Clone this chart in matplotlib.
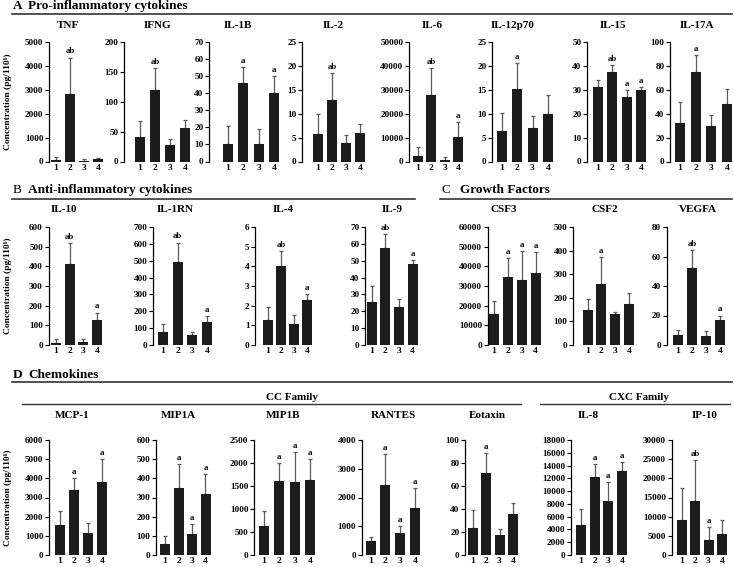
import matplotlib
matplotlib.use("Agg")
import matplotlib.pyplot as plt
from matplotlib.lines import Line2D
from matplotlib.ticker import MultipleLocator

plt.rcParams['font.family'] = ['Liberation Serif', 'DejaVu Serif']
plt.rcParams['font.weight'] = 'bold'

groups = ['1', '2', '3', '4']

# ---- data (mean, upper error size, significance letters) ----
TNF_mean = [70, 2830, 40, 100];        TNF_err = [110, 1520, 60, 50];      TNF_sig = ['', 'ab', '', '']
IFNG_mean = [41, 120, 28, 56];          IFNG_err = [26, 37, 9, 13];         IFNG_sig = ['', 'ab', '', '']
IL1B_mean = [10, 46, 10.5, 40];         IL1B_err = [11, 9.5, 8.5, 10];      IL1B_sig = ['', 'a', '', 'a']
IL2_mean = [5.7, 12.8, 3.8, 6.0];       IL2_err = [4.3, 5.7, 1.7, 1.8];     IL2_sig = ['', 'ab', '', '']
IL6_mean = [2200, 28000, 800, 10300];   IL6_err = [3800, 11000, 1000, 6200]; IL6_sig = ['', 'ab', '', 'a']
IL12_mean = [6.4, 15.2, 7.0, 9.9];     IL12_err = [3.8, 5.4, 2.6, 4.1];    IL12_sig = ['', 'a', '', '']
IL15_mean = [31.3, 37.5, 27.0, 29.9];   IL15_err = [3.0, 3.0, 3.0, 1.4];    IL15_sig = ['', 'ab', 'a', 'a']
IL17A_mean = [32, 75, 30, 48];          IL17A_err = [18, 14, 9, 13];        IL17A_sig = ['', 'a', '', '']
IL10_mean = [12, 413, 15, 125];         IL10_err = [18, 104, 15, 40];       IL10_sig = ['', 'ab', '', 'a']
IL1RN_mean = [78, 493, 60, 137];        IL1RN_err = [44, 115, 18, 33];      IL1RN_sig = ['', 'ab', '', 'a']
IL4_mean = [1.25, 4.0, 1.05, 2.3];      IL4_err = [0.7, 0.8, 0.5, 0.3];     IL4_sig = ['', 'ab', '', 'a']
IL9_mean = [25.5, 57.5, 22.5, 48];      IL9_err = [9.5, 8.5, 5, 2.5];       IL9_sig = ['', 'ab', '', 'a']
CSF3_mean = [16000, 34500, 33000, 36800]; CSF3_err = [6500, 9500, 15000, 10700]; CSF3_sig = ['', 'a', 'a', 'a']
CSF2_mean = [147, 258, 130, 173];       CSF2_err = [48, 114, 8, 49];        CSF2_sig = ['', 'a', '', '']
VEGFA_mean = [7, 52.5, 6, 17];          VEGFA_err = [3.5, 12, 3.5, 3];      VEGFA_sig = ['', 'ab', '', 'a']
MCP1_mean = [1550, 3400, 1150, 3800];   MCP1_err = [770, 600, 500, 1200];   MCP1_sig = ['', 'a', '', 'a']
MIP1A_mean = [58, 350, 110, 318];       MIP1A_err = [40, 125, 52, 104];     MIP1A_sig = ['', 'a', 'a', 'a']
MIP1B_mean = [630, 1600, 1580, 1620];   MIP1B_err = [320, 390, 650, 470];   MIP1B_sig = ['', 'a', 'a', 'a']
RANTES_mean = [470, 2450, 750, 1650];   RANTES_err = [150, 1070, 250, 670]; RANTES_sig = ['', 'a', 'a', 'a']
EOTAXIN_mean = [23.5, 71.5, 17, 35.5];  EOTAXIN_err = [16, 17, 5.5, 9.5];   EOTAXIN_sig = ['', 'a', '', '']
IL8_mean = [4700, 12200, 8400, 13200];  IL8_err = [2500, 2100, 3000, 1400]; IL8_sig = ['', 'a', 'a', 'a']
IP10_mean = [9200, 14200, 4000, 5600];  IP10_err = [8200, 10600, 3300, 3500]; IP10_sig = ['', 'ab', 'a', '']

# y-axis maxima and tick steps
panels = [
    # name, mean, err, sig, ymax, step
    ('TNF', TNF_mean, TNF_err, TNF_sig, 5000, 1000),
    ('IFNG', IFNG_mean, IFNG_err, IFNG_sig, 200, 50),
    ('IL-1B', IL1B_mean, IL1B_err, IL1B_sig, 70, 10),
    ('IL-2', IL2_mean, IL2_err, IL2_sig, 25, 5),
    ('IL-6', IL6_mean, IL6_err, IL6_sig, 50000, 10000),
    ('IL-12p70', IL12_mean, IL12_err, IL12_sig, 25, 5),
    ('IL-15', IL15_mean, IL15_err, IL15_sig, 50, 10),
    ('IL-17A', IL17A_mean, IL17A_err, IL17A_sig, 100, 20),
    ('IL-10', IL10_mean, IL10_err, IL10_sig, 600, 100),
    ('IL-1RN', IL1RN_mean, IL1RN_err, IL1RN_sig, 700, 100),
    ('IL-4', IL4_mean, IL4_err, IL4_sig, 6, 1),
    ('IL-9', IL9_mean, IL9_err, IL9_sig, 70, 10),
    ('CSF3', CSF3_mean, CSF3_err, CSF3_sig, 60000, 10000),
    ('CSF2', CSF2_mean, CSF2_err, CSF2_sig, 500, 100),
    ('VEGFA', VEGFA_mean, VEGFA_err, VEGFA_sig, 80, 20),
    ('MCP-1', MCP1_mean, MCP1_err, MCP1_sig, 6000, 1000),
    ('MIP1A', MIP1A_mean, MIP1A_err, MIP1A_sig, 600, 100),
    ('MIP1B', MIP1B_mean, MIP1B_err, MIP1B_sig, 2500, 500),
    ('RANTES', RANTES_mean, RANTES_err, RANTES_sig, 4000, 1000),
    ('Eotaxin', EOTAXIN_mean, EOTAXIN_err, EOTAXIN_sig, 100, 20),
    ('IL-8', IL8_mean, IL8_err, IL8_sig, 18000, 2000),
    ('IP-10', IP10_mean, IP10_err, IP10_sig, 30000, 5000),
]

# ---- layout in pixels: axis_x, bar1 center, bar4 center, title center x, row ----
ROWS = {'A': (42, 161.5), 'B': (227, 345), 'D': (440, 555)}
TITLE_Y = {'A': 25, 'B': 210, 'D': 415}
layout = [
    (49, 56, 98, 68, 'A'), (124, 140, 185, 158, 'A'), (209, 228, 274, 238, 'A'),
    (302, 318, 360, 333, 'A'), (409, 418, 458, 432, 'A'), (492, 501.5, 548, 513, 'A'),
    (587, 598, 641, 613, 'A'), (670, 680, 727, 697, 'A'),
    (48.5, 56, 97, 64, 'B'), (153, 163, 207, 175, 'B'), (255, 268, 307, 283, 'B'),
    (365, 371.5, 412.5, 392, 'B'),
    (487.5, 494, 535.5, 504, 'B'), (573, 587.5, 629, 605, 'B'), (666.5, 678, 720, 698, 'B'),
    (49, 60, 102, 72, 'D'), (156, 165, 205.5, 178, 'D'), (254, 264, 310, 283, 'D'),
    (361.5, 370.5, 415, 393, 'D'), (465, 472.5, 513, 487, 'D'), (570.5, 581, 622, 588, 'D'),
    (671.5, 681.5, 722, 705, 'D'),
]

W, H = 734, 567
fig = plt.figure(figsize=(W / 100, H / 100), dpi=100)

BAR_PX = 10
for (name, mean, err, sig, ymax, step), (axx, c1, c4, tx, row) in zip(panels, layout):
    top, bot = ROWS[row]
    s = (c4 - c1) / 3.0
    xl = 1 - (c1 - axx) / s
    xr = 4 + (BAR_PX / 2 + 2) / s
    wpx = (xr - xl) * s
    ax = fig.add_axes([axx / W, 1 - bot / H, wpx / W, (bot - top) / H])
    ax.patch.set_alpha(0)
    x = [1, 2, 3, 4]
    ax.bar(x, mean, width=BAR_PX / s, color='#1c1c1c', edgecolor='none', zorder=2)
    ax.errorbar(x, mean, yerr=[[0] * 4, err], fmt='none', ecolor='#5a5a5a',
                elinewidth=0.9, capsize=1.3, capthick=0.9, zorder=1)
    for xi, m, e, t in zip(x, mean, err, sig):
        if t:
            ax.annotate(t, (xi, m + e), xytext=(0, 1.5), textcoords='offset points',
                        ha='center', va='bottom', fontsize=6.3, fontweight='bold')
    ax.set_xlim(xl, xr)
    ax.set_ylim(0, ymax)
    ax.yaxis.set_major_locator(MultipleLocator(step))
    ax.set_xticks(x)
    ax.set_xticklabels(groups)
    for sp in ('top', 'right', 'bottom'):
        ax.spines[sp].set_visible(False)
    ax.spines['left'].set_linewidth(0.9)
    ax.tick_params(axis='x', length=0, pad=1.5, labelsize=6.8)
    ax.tick_params(axis='y', length=3, width=0.8, pad=1, labelsize=6.6)
    for lab in ax.get_xticklabels() + ax.get_yticklabels():
        lab.set_fontweight('bold')
    fig.text(tx / W, 1 - TITLE_Y[row] / H, name, ha='center', va='center',
             fontsize=8, fontweight='bold')


def hline(x0, x1, y, lw=1.2):
    fig.add_artist(Line2D([x0 / W, x1 / W], [1 - y / H, 1 - y / H], color='#333333', lw=lw))


# section headers
fig.text(13 / W, 1 - 6 / H, 'A', fontsize=9.5, fontweight='bold', va='center')
fig.text(28 / W, 1 - 6 / H, 'Pro-inflammatory cytokines', fontsize=9.5, fontweight='bold', va='center')
hline(12, 732, 14)
fig.text(13 / W, 1 - 190 / H, 'B', fontsize=9.5, fontweight='normal', va='center')
fig.text(28 / W, 1 - 190 / H, 'Anti-inflammatory cytokines', fontsize=9.5, fontweight='bold', va='center')
hline(12, 415, 199)
fig.text(441 / W, 1 - 190 / H, 'C', fontsize=9.5, fontweight='normal', va='center')
fig.text(460 / W, 1 - 190 / H, 'Growth Factors', fontsize=9.5, fontweight='bold', va='center')
hline(440, 732, 199)
fig.text(13 / W, 1 - 375 / H, 'D', fontsize=9.5, fontweight='bold', va='center')
fig.text(28 / W, 1 - 375 / H, 'Chemokines', fontsize=9.5, fontweight='bold', va='center')
hline(12, 732, 382)
fig.text(292 / W, 1 - 397 / H, 'CC Family', fontsize=8, fontweight='bold', ha='center', va='center')
hline(22, 521, 404, lw=1.0)
fig.text(639 / W, 1 - 397 / H, 'CXC Family', fontsize=8, fontweight='bold', ha='center', va='center')
hline(540, 730, 404, lw=1.0)

# y labels
for row in ('A', 'B', 'D'):
    top, bot = ROWS[row]
    fig.text(8 / W, 1 - (top + bot) / 2 / H, 'Concentration (pg/110⁶)', rotation=90,
             ha='center', va='center', fontsize=6.8, fontweight='bold')

fig.savefig('out.png', dpi=100)
